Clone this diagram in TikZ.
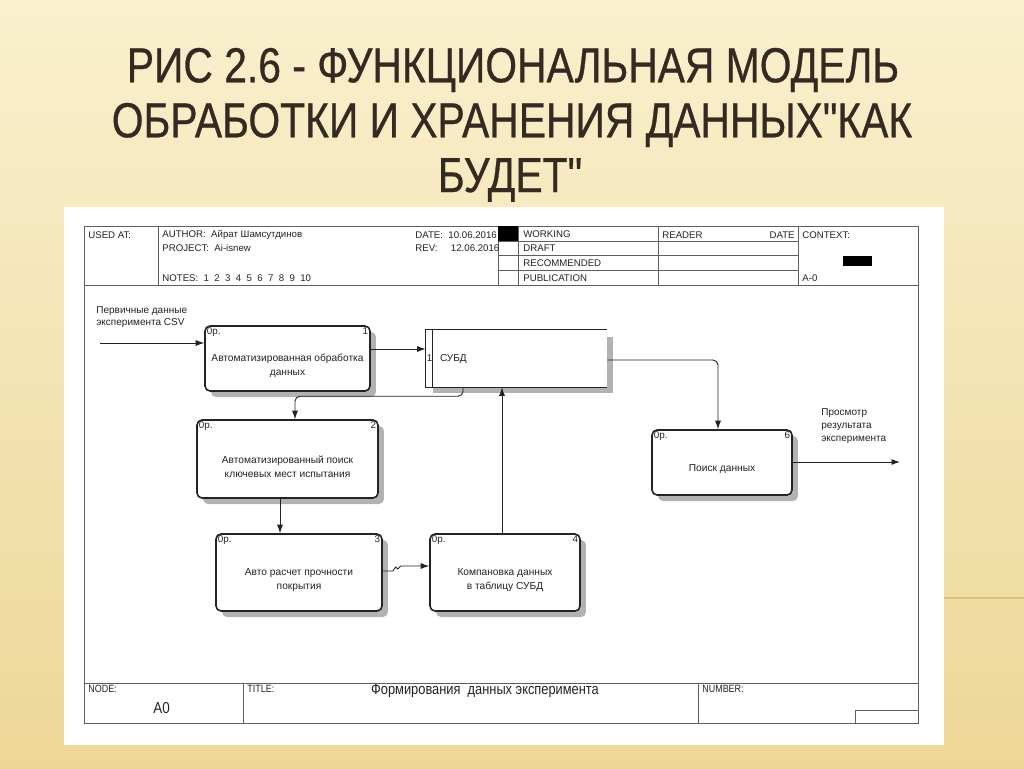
\documentclass[tikz,border=0pt]{standalone}
\usepackage{fontspec}
\setmainfont{Liberation Sans}
\newfontfamily\narrowfont[FakeStretch=0.85]{Liberation Sans}
\newfontfamily\titlefont[FakeStretch=0.83,FakeBold=0.6]{Liberation Sans}
\usetikzlibrary{arrows.meta,shadows}

\definecolor{slidetop}{RGB}{250,240,206}
\definecolor{slidebottom}{RGB}{237,215,152}
\definecolor{titlebrown}{RGB}{52,42,33}
\definecolor{framegray}{RGB}{95,95,95}
\definecolor{shadegray}{RGB}{178,178,178}
\definecolor{inkgray}{RGB}{35,35,35}
\definecolor{decoline}{RGB}{228,190,120}

\begin{document}
\begin{tikzpicture}[x=0.02cm,y=-0.02cm,
    frameline/.style={draw=framegray,line width=0.45pt},
    titletext/.style={inner sep=0pt,text=titlebrown,font=\titlefont\fontsize{28}{30}\selectfont},
    hdtext/.style={anchor=west,inner sep=0pt,text=inkgray,font=\fontsize{5.5}{6.6}\selectfont},
    ftlabel/.style={anchor=west,inner sep=0pt,text=inkgray,font=\narrowfont\fontsize{6}{7}\selectfont},
    funcbox/.style={draw=inkgray,line width=0.9pt,rounded corners=0.1cm,fill=white,inner sep=0pt,
        drop shadow={shadow xshift=0.12cm,shadow yshift=-0.12cm,fill=shadegray,opacity=1}},
    boxtext/.style={align=center,inner sep=0pt,text=inkgray,font=\fontsize{5.8}{7.9}\selectfont},
    cornertext/.style={inner sep=1.3pt,text=inkgray,font=\fontsize{5.6}{6.5}\selectfont},
    storeline/.style={draw=inkgray,line width=0.9pt},
    flow/.style={draw=inkgray,line width=0.5pt,-{Latex[length=0.17cm,width=0.12cm]}},
    arrowtext/.style={anchor=west,align=left,inner sep=0pt,text=inkgray,font=\fontsize{5.7}{7}\selectfont}]
        \useasboundingbox (0,0) rectangle (1024,768);

        % slide
        \shade[top color=slidetop,bottom color=slidebottom] (0,0) rectangle (1024,768);
        \draw[decoline,line width=0.6pt] (944,598) -- (1024,598);

        \node[titletext] (title1) at (513,70) {РИС 2.6 - ФУНКЦИОНАЛЬНАЯ МОДЕЛЬ};
        \node[titletext] (title2) at (512,125) {ОБРАБОТКИ И ХРАНЕНИЯ ДАННЫХ"КАК};
        \node[titletext] (title3) at (510,180) {БУДЕТ"};

        \fill[white] (64,207) rectangle (944,745);

        % form frame
        \draw[frameline] (84,226) rectangle (918,723);
        \draw[frameline] (84,285) -- (918,285);
        \draw[frameline] (84,683) -- (918,683);
        \draw[frameline] (158,226) -- (158,285);
        \draw[frameline] (498,226) -- (498,285) (518,226) -- (518,285);
        \draw[frameline] (658,226) -- (658,285) (798,226) -- (798,285);
        \draw[frameline] (498,241) -- (798,241) (498,255) -- (798,255) (498,270) -- (798,270);
        \fill[black] (498,226) rectangle (518,241);
        \fill[black] (843,256) rectangle (872,266);
        \draw[frameline] (243,683) -- (243,723) (698,683) -- (698,723);
        \draw[frameline] (855,723) -- (855,710) -- (918,710);

        \node[hdtext] (usedat) at (88,235) {USED AT:};
        \node[hdtext] (author) at (162,235) {AUTHOR:\ \ Айрат Шамсутдинов};
        \node[hdtext] (project) at (162,248) {PROJECT:\ \ Ai-isnew};
        \node[hdtext] (notes) at (162,278) {NOTES:\ \ 1\ \ 2\ \ 3\ \ 4\ \ 5\ \ 6\ \ 7\ \ 8\ \ 9\ \ 10};
        \node[hdtext] (date) at (415,235) {DATE:\ \ 10.06.2016};
        \node[hdtext] (rev) at (415,248) {REV:\ \ \ \ \ 12.06.2016};
        \node[hdtext] (working) at (523,234) {WORKING};
        \node[hdtext] (draft) at (523,248) {DRAFT};
        \node[hdtext] (recommended) at (523,263) {RECOMMENDED};
        \node[hdtext] (publication) at (523,278) {PUBLICATION};
        \node[hdtext] (reader) at (662,235) {READER};
        \node[hdtext,anchor=east] (readerdate) at (795,235) {DATE};
        \node[hdtext] (context) at (802,235) {CONTEXT:};
        \node[hdtext] (contextnode) at (802,278) {A-0};

        \node[ftlabel] (nodelabel) at (88,689) {NODE:};
        \node[ftlabel,font=\narrowfont\fontsize{9}{10}\selectfont] (nodename) at (153,708) {A0};
        \node[ftlabel] (titlelabel) at (247,689) {TITLE:};
        \node[ftlabel,anchor=center,font=\narrowfont\fontsize{8.6}{10}\selectfont] (diagramtitle) at (485,691) {Формирования\ \ данных эксперимента};
        \node[ftlabel] (numberlabel) at (702,689) {NUMBER:};

        % activities
        \node[funcbox,minimum width=3.3cm,minimum height=1.3cm] (b1) at (287.5,358.5) {};
        \node[funcbox,minimum width=3.62cm,minimum height=1.56cm] (b2) at (287.5,459) {};
        \node[funcbox,minimum width=3.32cm,minimum height=1.54cm] (b3) at (299,572.5) {};
        \node[funcbox,minimum width=3cm,minimum height=1.54cm] (b4) at (505,572.5) {};
        \node[funcbox,minimum width=2.8cm,minimum height=1.3cm] (b6) at (722,462.5) {};

        \node[boxtext] (b1-text) at ([yshift=-0.14cm]b1.center) {Автоматизированная обработка\\данных};
        \node[boxtext] (b2-text) at ([yshift=-0.16cm]b2.center) {Автоматизированный поиск\\ключевых мест испытания};
        \node[boxtext] (b3-text) at ([yshift=-0.15cm]b3.center) {Авто расчет прочности\\покрытия};
        \node[boxtext] (b4-text) at ([yshift=-0.15cm]b4.center) {Компановка данных\\в таблицу СУБД};
        \node[boxtext] (b6-text) at ([yshift=-0.13cm]b6.center) {Поиск данных};

        \foreach \b/\n in {b1/1,b2/2,b3/3,b4/4,b6/6}{
            \node[cornertext,anchor=north west] (\b-cost) at (\b.north west) {0р.};
            \node[cornertext,anchor=north east] (\b-num) at (\b.north east) {\n};
        }

        % data store
        \node[minimum width=3.62cm,minimum height=1.14cm,inner sep=0pt] (ds) at (516.5,358.5) {};
        \fill[shadegray] ([xshift=0.14cm,yshift=-0.12cm]ds.south west) rectangle ([xshift=0.12cm]ds.south east);
        \fill[shadegray] ([yshift=-0.14cm]ds.north east) rectangle ([xshift=0.12cm,yshift=-0.12cm]ds.south east);
        \draw[storeline] (ds.north east) -- (ds.north west) -- (ds.south west) -- (ds.south east);
        \draw[storeline] ([xshift=0.14cm]ds.north west) -- ([xshift=0.14cm]ds.south west);
        \node[cornertext] (ds-num) at ([xshift=0.08cm]ds.west) {1};
        \node[hdtext,font=\fontsize{5.7}{6.8}\selectfont] (ds-name) at ([xshift=0.28cm]ds.west) {СУБД};

        % arrows
        \coordinate (csv) at (100,343);
        \coordinate (result) at (900,462);
        \draw[flow] (csv) -- (csv -| b1.west);
        \node[arrowtext] (csv-label) at (96,317) {Первичные данные\\эксперимента CSV};
        \draw[flow] ([yshift=0.19cm]b1.east) -- ([yshift=0.19cm]b1.east -| ds.west);
        \draw[flow,rounded corners=0.1cm] ([xshift=-1.07cm]ds.south) |- ([xshift=0.15cm,yshift=0.46cm]b2.north) -- ([xshift=0.15cm]b2.north);
        \draw[flow] ([xshift=-0.15cm]b2.south) -- ([xshift=-0.15cm]b2.south |- b3.north);
        \draw[flow] ([yshift=0.03cm]b3.east) -- ++(10,0) -- ++(3,-4) -- ++(2,2) -- ++(3,-3) -- ([yshift=0.13cm]b4.west);
        \draw[flow] ([xshift=-0.06cm]b4.north) -- ([xshift=-0.06cm]b4.north |- ds.south);
        \draw[flow,rounded corners=0.1cm] ([yshift=-0.03cm]ds.east) -| ([xshift=-0.08cm]b6.north);
        \draw[flow] (b6.east |- result) -- (result);
        \node[arrowtext,font=\fontsize{5.7}{7.4}\selectfont] (result-label) at (821,426) {Просмотр\\результата\\эксперимента};

    \end{tikzpicture}
\end{document}
